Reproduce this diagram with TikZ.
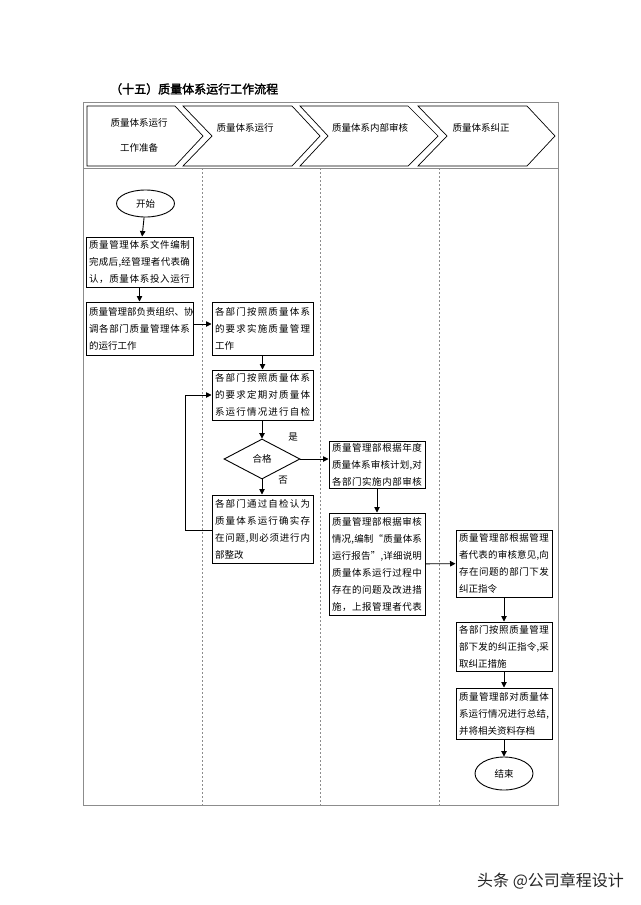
\documentclass[tikz,border=0pt]{standalone}
\usepackage{fontspec}
\setmainfont{Noto Sans CJK SC}[AutoFakeBold=2]
\usetikzlibrary{arrows.meta,shapes.geometric}
\setlength\parindent{0pt}
\ExplSyntaxOn
\NewDocumentCommand\jl{m}{\makebox[\hsize][s]{\tl_map_inline:nn{#1}{##1\hfil}\unskip}}
\ExplSyntaxOff
\newcommand\fs{\fontsize{9.5}{17}\selectfont}
\begin{document}
\begin{tikzpicture}[x=1pt,y=-1pt,
  box/.style={draw,line width=1pt,inner xsep=3pt,inner ysep=2pt,font=\fs,align=left},
  oval/.style={draw,line width=0.9pt,ellipse,inner sep=0pt,font=\fs},
  dec/.style={draw,line width=0.9pt,diamond,inner sep=0pt,minimum width=76pt,minimum height=40pt,font=\fs,aspect=1.9},
  arr/.style={line width=0.9pt,-{Triangle[length=5.5pt,width=5.5pt]}},
  chev/.style={draw,line width=0.7pt},
  hd/.style={font=\fs,inner sep=0pt},
  lane/.style={draw=black!45,line width=0.6pt,dash pattern=on 2pt off 2pt}]
\useasboundingbox (0,0) rectangle (640,905);
\fill[white] (0,0) rectangle (640,905);
% title
\node[anchor=west,inner sep=0pt,font=\fontsize{12}{14}\selectfont\bfseries] (title) at (110,89) {（十五）质量体系运行工作流程};
% frame
\draw[black!45,line width=0.7pt] (83,102) rectangle (558,805);
\draw[black!45,line width=0.7pt] (83,168) -- (558,168);
\draw[lane] (202,168) -- (202,805);
\draw[lane] (320,168) -- (320,805);
\draw[lane] (439,168) -- (439,805);
% chevrons
\draw[chev] (87,106) -- (175,106) -- (203,136) -- (175,166) -- (87,166) -- cycle;
\draw[chev] (183,106) -- (292,106) -- (320,136) -- (292,166) -- (183,166) -- (212,136) -- cycle;
\draw[chev] (300,106) -- (408,106) -- (438,136) -- (408,166) -- (300,166) -- (328,136) -- cycle;
\draw[chev] (418,106) -- (527,106) -- (555,136) -- (527,166) -- (418,166) -- (447,136) -- cycle;
\node[hd] (h1a) at (139,123) {质量体系运行};
\node[hd] (h1b) at (139,148) {工作准备};
\node[hd] (h2) at (245,128) {质量体系运行};
\node[hd] (h3) at (370,128) {质量体系内部审核};
\node[hd] (h4) at (481,128) {质量体系纠正};
% nodes
\node[oval,minimum width=58pt,minimum height=27pt] (start) at (145.5,203.5) {开始};
\node[box,text width=101pt,minimum height=50pt] (b1) at (139.5,262) {\jl{质量管理体系文件编制}\\\jl{完成后,经管理者代表确}\\\jl{认，质量体系投入运行}};
\node[box,text width=101pt,minimum height=53pt] (b2) at (139.5,328.5) {\jl{质量管理部负责组织、协}\\\jl{调各部门质量管理体系}\\的运行工作};
\node[box,text width=95pt,minimum height=53pt] (b3) at (262.5,328.5) {\jl{各部门按照质量体系}\\\jl{的要求实施质量管理}\\工作};
\node[box,text width=95pt,minimum height=50pt] (b4) at (262.5,395) {\jl{各部门按照质量体系}\\\jl{的要求定期对质量体}\\\jl{系运行情况进行自检}};
\node[dec] (dia) at (262,459) {合格};
\node[box,text width=95pt,minimum height=68pt] (b5) at (262.5,529) {\jl{各部门通过自检认为}\\\jl{质量体系运行确实存}\\\jl{在问题,则必须进行内}\\部整改};
\node[box,text width=90pt,minimum height=46pt] (b6) at (377,465) {\jl{质量管理部根据年度}\\\jl{质量体系审核计划,对}\\\jl{各部门实施内部审核}};
\node[box,text width=90pt,minimum height=102pt] (b7) at (377,564) {\jl{质量管理部根据审核}\\\jl{情况,编制“质量体系}\\\jl{运行报告”,详细说明}\\\jl{质量体系运行过程中}\\\jl{存在的问题及改进措}\\\jl{施，上报管理者代表}};
\node[box,text width=90pt,minimum height=67pt] (b8) at (504,563.5) {\jl{质量管理部根据管理}\\\jl{者代表的审核意见,向}\\\jl{存在问题的部门下发}\\纠正指令};
\node[box,text width=90pt,minimum height=49pt] (b9) at (504,646.5) {\jl{各部门按照质量管理}\\\jl{部下发的纠正指令,采}\\取纠正措施};
\node[box,text width=90pt,minimum height=51pt] (b10) at (504,713.5) {\jl{质量管理部对质量体}\\\jl{系运行情况进行总结,}\\并将相关资料存档};
\node[oval,minimum width=58pt,minimum height=33pt] (end) at (504,773.5) {结束};
% labels
\node[hd] (yes) at (293,437) {是};
\node[hd] (no) at (283,480) {否};
% connectors
\draw[arr] (start) -- (b1);
\draw[arr] (b1) -- (b2);
\draw[arr] (b2.east |- 0,324) -- (b3.west |- 0,324);
\draw[arr] (b3) -- (b4);
\draw[arr] (b4.south -| dia.north) -- (dia.north);
\draw[arr] (dia.south) -- (b5.north -| dia.south);
\coordinate (l1) at (185,530);
\coordinate (l2) at (185,395);
\draw[arr] (b5.west |- l1) -- (l1) -- (l2) -- (b4.west);
\draw[arr] (dia.east) -- (dia.east -| b6.west);
\draw[arr] (b6) -- (b7);
\draw[arr] (b7) -- (b8);
\draw[arr] (b8) -- (b9);
\draw[arr] (b9) -- (b10);
\draw[arr] (b10) -- (end);
% watermark
\node[anchor=west,inner sep=0pt,text=black!85,font=\fontsize{16}{18}\selectfont] (wm) at (477,881) {头条 @公司章程设计};
\end{tikzpicture}
\end{document}
